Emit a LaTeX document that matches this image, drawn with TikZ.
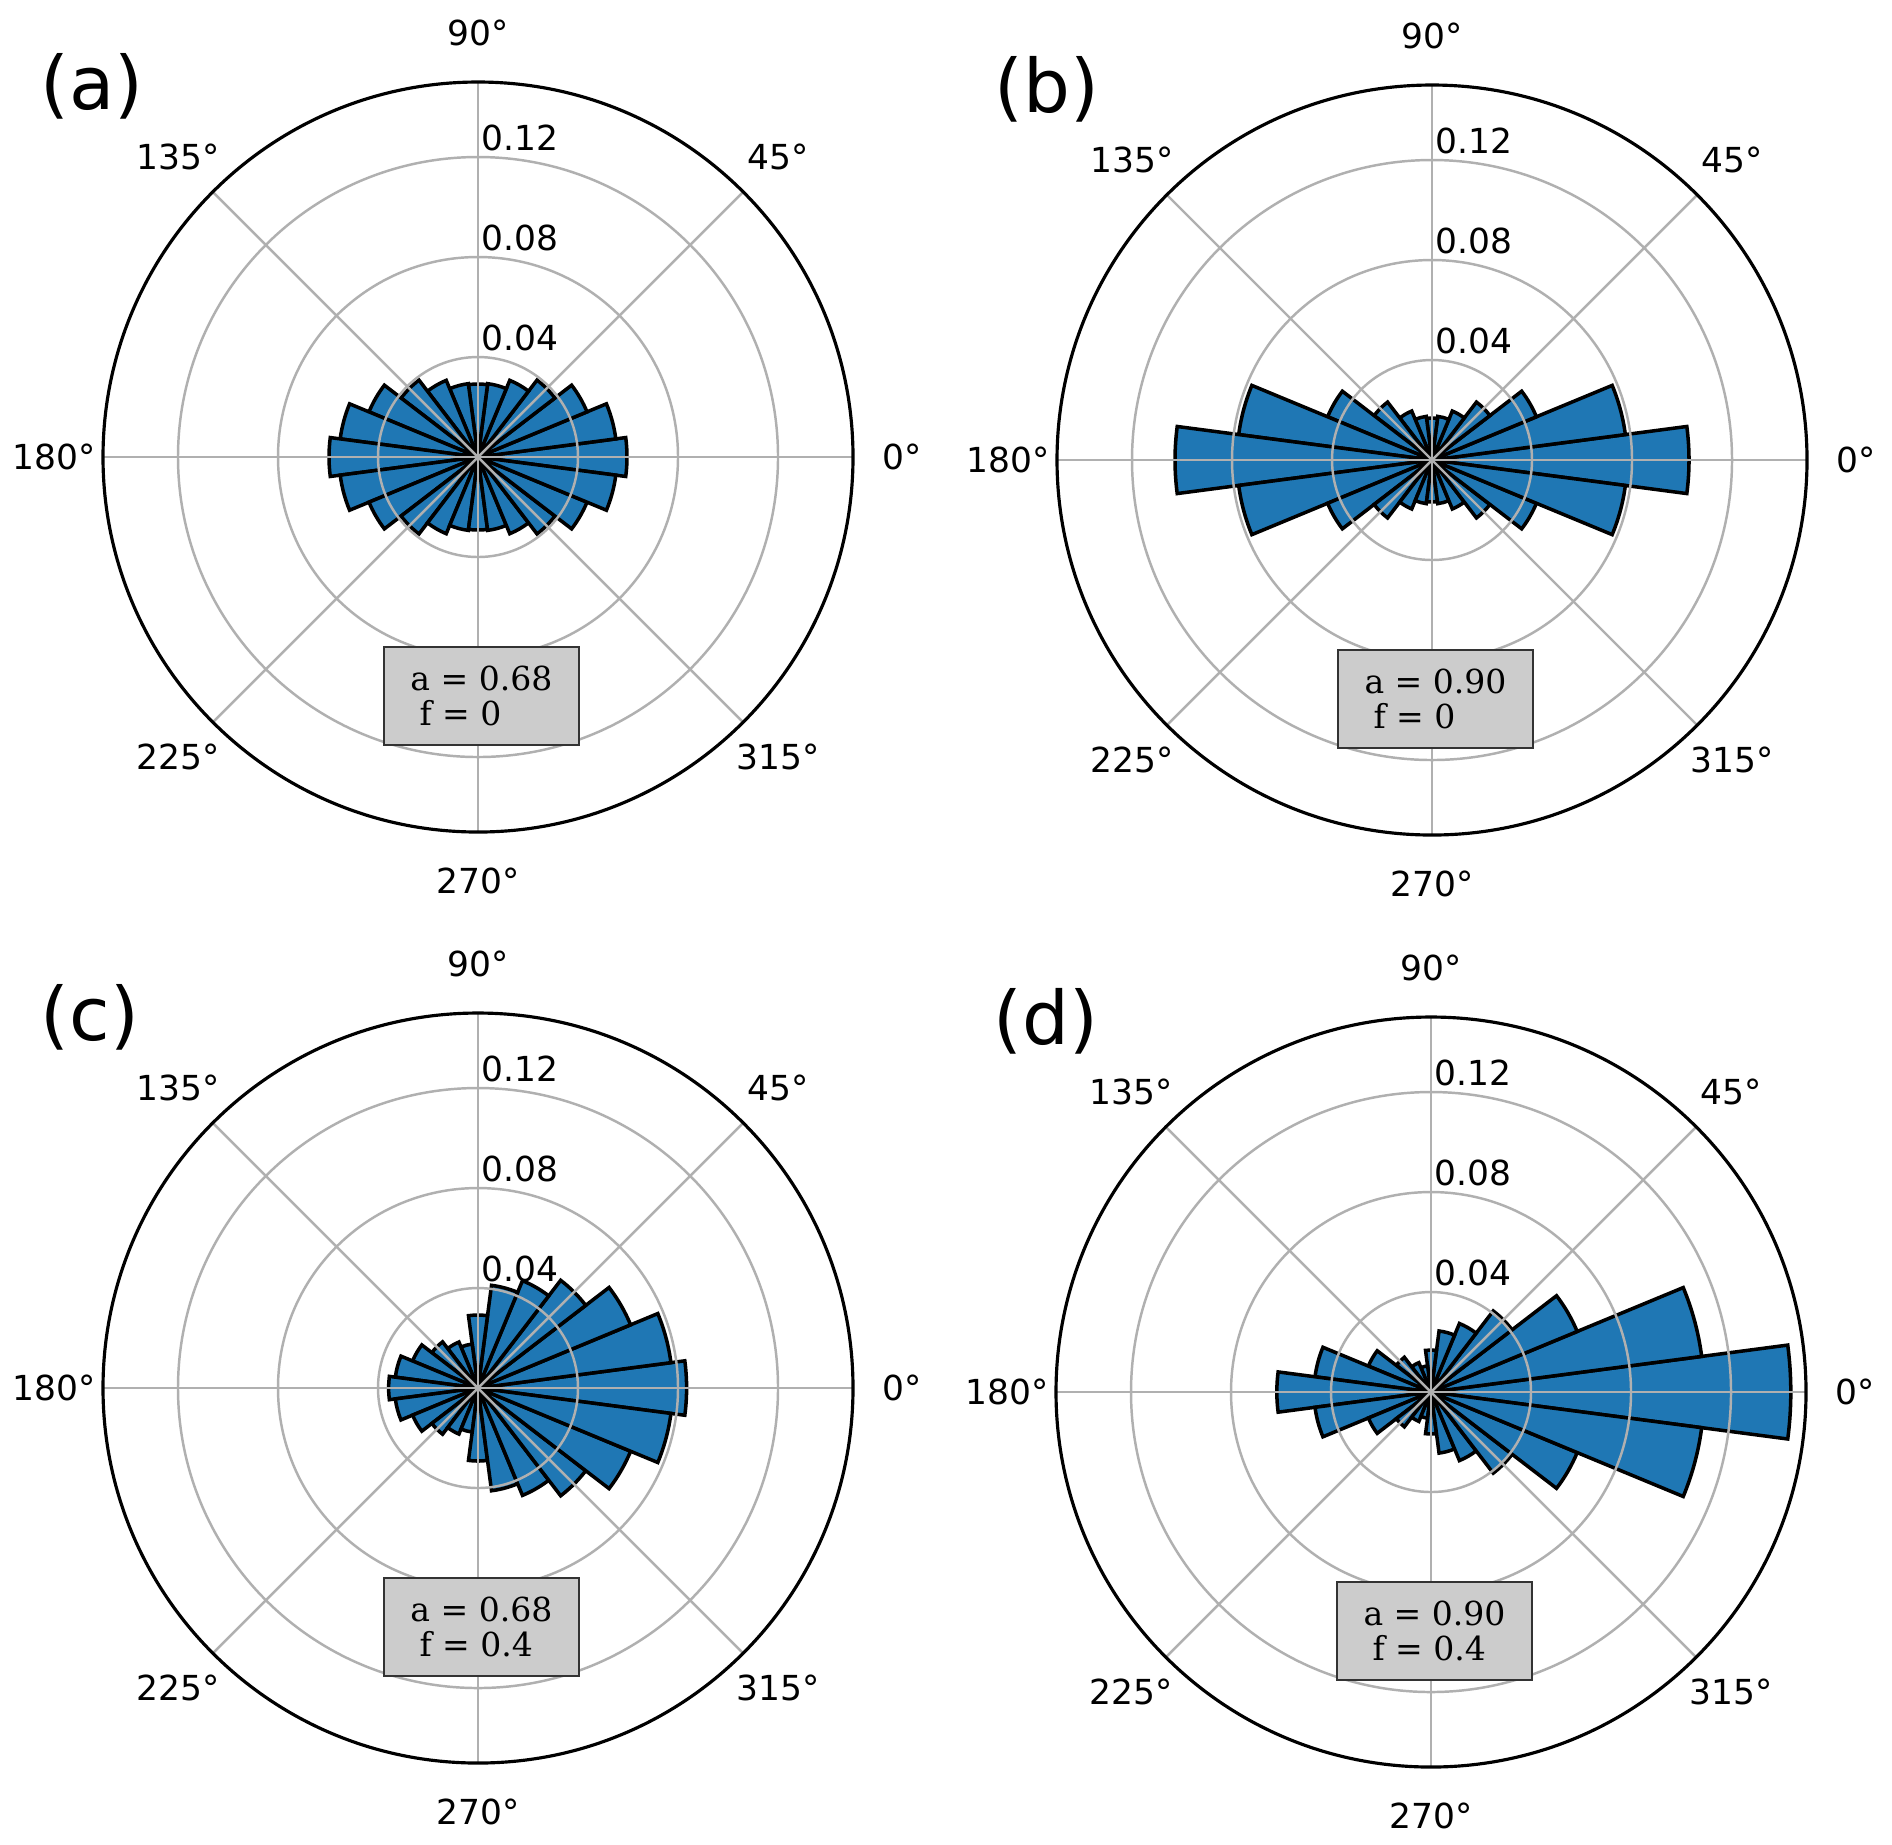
\documentclass[tikz,border=0pt]{standalone}
\usepackage{xcolor}
\usepackage{fontspec}
\usepackage{tikz}
\newfontfamily\djv{DejaVu Sans}
\newfontfamily\djvserif{DejaVu Serif}
\definecolor{barblue}{HTML}{1F77B4}
\definecolor{gridgray}{HTML}{B0B0B0}
\definecolor{boxgray}{HTML}{CCCCCC}
\tikzset{rosebar/.style={fill=barblue, draw=black, line width=1pt},
  polgrid/.style={draw=gridgray, line width=0.7pt},
  rim/.style={draw=black, line width=0.9pt},
  anglab/.style={font=\djv\fontsize{9.8}{11}\selectfont, inner sep=0pt},
  panlab/.style={font=\djv\fontsize{21}{25}\selectfont, anchor=base west, inner sep=0pt},
  infobox/.style={fill=boxgray, draw=black!80, line width=0.4pt, minimum width=1.95cm,
    minimum height=0.98cm, inner sep=0pt, align=left, font=\djvserif\fontsize{9.4}{10}\selectfont}}
% #1 centre, #2 letter, #3 radii 0..90 deg, #4 f, #5 a text, #6 f text
\newcommand{\rosepanel}[6]{%
\begin{scope}[shift={#1}]
\foreach \k in {0,...,23}{
  \pgfmathsetmacro\th{15*\k}
  \pgfmathtruncatemacro\m{mod(\k,12)}
  \pgfmathtruncatemacro\ii{min(\m,12-\m)}
  \pgfmathsetmacro\fac{(\k==6||\k==18) ? 1 : ((\k<6||\k>18) ? 1+#4 : 1-#4)}
  \pgfmathsetmacro\rr{{#3}[\ii]*\fac}
  \pgfmathsetmacro\ta{\th-7.5}
  \pgfmathsetmacro\tb{\th+7.5}
  \filldraw[rosebar] (0,0) -- (\ta:\rr) arc[start angle=\ta, end angle=\tb, radius=\rr] -- cycle;
}
\foreach \rg in {100,200,300} \draw[polgrid] (0,0) circle[radius=\rg];
\foreach \ang in {0,45,...,315} \draw[polgrid] (0,0) -- (\ang:375);
\draw[rim] (0,0) circle[radius=375];
\foreach \ang in {0,45,...,315} \node[anglab] (deg#2\ang) at (\ang:424) {\ang°};
\node[anglab, anchor=base west] (tick#2a) at (2.5,107) {0.04};
\node[anglab, anchor=base west] (tick#2b) at (2.5,207) {0.08};
\node[anglab, anchor=base west] (tick#2c) at (2.5,307) {0.12};
\node[panlab] (lab#2) at (-438,348) {(#2)};
\node[infobox] (box#2) at (3.5,-239) {a = #5\\\hspace{0.09cm}f = #6};
\end{scope}}

\begin{document}
\begin{tikzpicture}[x=0.01cm, y=0.01cm]
\useasboundingbox (0,0) rectangle (1892,-1844);
\fill[white] (0,0) rectangle (1892,-1844);
\rosepanel{(478,-457)}{a}{149,139,118,97,83,74,73}{0}{0.68}{0}
\rosepanel{(1432,-460)}{b}{257,195,113,73,53,44,42}{0}{0.90}{0}
\rosepanel{(478,-1388)}{c}{149,139,118,97,83,74,73}{0.4}{0.68}{0.4}
\rosepanel{(1431,-1392)}{d}{257,195,113,73,53,44,42}{0.4}{0.90}{0.4}
\end{tikzpicture}
\end{document}
